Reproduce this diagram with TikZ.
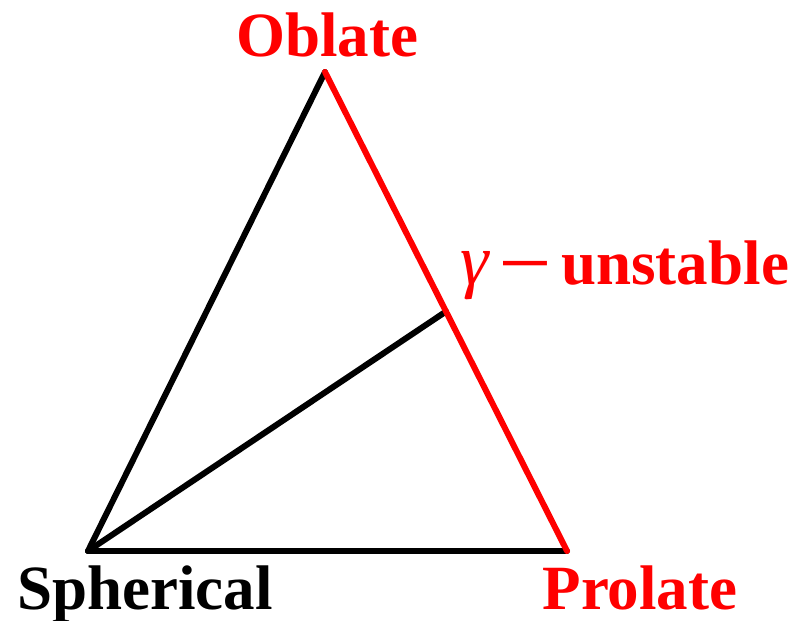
\documentclass[tikz,border=0pt]{standalone}
\usepackage{fontspec}
\setmainfont{Liberation Serif}
\usetikzlibrary{positioning,calc}

\begin{document}
\begin{tikzpicture}[
  x=1pt,y=1pt,
  edge/.style={line width=6pt,line cap=round,line join=round},
  lbl/.style={font=\fontsize{63}{63}\selectfont\bfseries,inner sep=0pt,anchor=base},
]
\useasboundingbox (0,0) rectangle (799,620);
\coordinate (sph) at (88,69);
\coordinate (pro) at (567,69);
\coordinate (obl) at (325,548);
\coordinate (gam) at ($(obl)!0.5!(pro)$);
\draw[edge] (sph)--(pro);
\draw[edge] (sph)--(obl);
\draw[edge] (sph)--(gam);
\draw[edge,red] (obl)--(pro);
\node[lbl,red] (oblate) at (327,563) {Oblate};
\node[lbl] (spherical) at (145,10) {Spherical};
\node[lbl,red] (prolate) at (640,10) {Prolate};
\node[lbl,red,anchor=base west] (unstable) at (460,335)
  {{\mdseries\itshape\fontsize{72}{72}\selectfont γ}\hspace{10pt}\scalebox{1.5}[1]{−}\hspace{9pt}unstable};
\end{tikzpicture}
\end{document}
